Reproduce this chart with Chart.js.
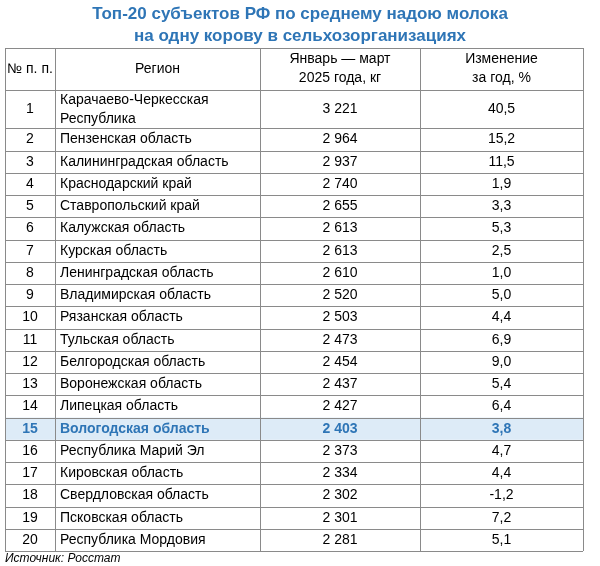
<!DOCTYPE html>
<html><head><meta charset="utf-8">
<script src="https://cdn.jsdelivr.net/npm/chart.js@4"></script>
<style>body{margin:0;background:#fff}#w{width:600px;height:566px;position:relative}</style>
</head><body><div id="w"><canvas id="c"></canvas></div>
<script>
const title = ["Топ-20 субъектов РФ по среднему надою молока","на одну корову в сельхозорганизациях"];
const headers = [["№ п. п."],["Регион"],["Январь — март","2025 года, кг"],["Изменение","за год, %"]];
const ranks = [1,2,3,4,5,6,7,8,9,10,11,12,13,14,15,16,17,18,19,20];
const regions = ["Карачаево-Черкесская\nРеспублика","Пензенская область","Калининградская область","Краснодарский край","Ставропольский край","Калужская область","Курская область","Ленинградская область","Владимирская область","Рязанская область","Тульская область","Белгородская область","Воронежская область","Липецкая область","Вологодская область","Республика Марий Эл","Кировская область","Свердловская область","Псковская область","Республика Мордовия"];
const yields = [3221,2964,2937,2740,2655,2613,2613,2610,2520,2503,2473,2454,2437,2427,2403,2373,2334,2302,2301,2281];
const changes = [40.5,15.2,11.5,1.9,3.3,5.3,2.5,1.0,5.0,4.4,6.9,9.0,5.4,6.4,3.8,4.7,4.4,-1.2,7.2,5.1];
const highlight = "Вологодская область";
const source = "Источник: Росстат";
const colWidths = [50,205,160,163];
const headerH = 1.9, firstH = 1.72, rowH = 1;

const colEdges=[0]; colWidths.forEach(w=>colEdges.push(colEdges[colEdges.length-1]+w));
const rowEdges=[0,headerH,headerH+firstH]; for(let i=1;i<ranks.length;i++) rowEdges.push(rowEdges[rowEdges.length-1]+rowH);
const fmtY=v=>String(v).replace(/\B(?=(\d{3})+(?!\d))/g,' ');
const fmtC=v=>v.toFixed(1).replace('.',',');
const BLUE='#2E75B6';

const tablePlugin={id:'table',afterDraw(ch){
  const c=ch.ctx,x=ch.scales.x,y=ch.scales.y;
  const X=v=>x.getPixelForValue(v),Y=v=>y.getPixelForValue(v);
  c.save();
  // title
  c.fillStyle=BLUE;c.font='bold 17px "Liberation Sans", Arial';c.textAlign='center';c.textBaseline='middle';
  c.fillText(title[0],300,14);c.fillText(title[1],300,36);
  // highlight row
  const hi=regions.indexOf(highlight);
  c.fillStyle='#DDEBF7';c.fillRect(X(0),Y(rowEdges[hi+1]),X(colEdges[4])-X(0),Y(rowEdges[hi+2])-Y(rowEdges[hi+1]));
  // grid
  c.strokeStyle='#8a8a8a';c.lineWidth=1;c.beginPath();
  rowEdges.forEach(r=>{const p=Math.round(Y(r))+0.5;c.moveTo(X(0),p);c.lineTo(X(colEdges[4]),p);});
  colEdges.forEach(e=>{const p=Math.round(X(e))+0.5;c.moveTo(p,Y(0));c.lineTo(p,Y(rowEdges[rowEdges.length-1]));});
  c.stroke();
  // headers
  c.fillStyle='#000';c.font='14px "Liberation Sans", Arial';
  headers.forEach((h,i)=>{const cx=(X(colEdges[i])+X(colEdges[i+1]))/2,cy=(Y(0)+Y(headerH))/2;
    h.forEach((t,j)=>c.fillText(t,cx,cy+(j-(h.length-1)/2)*19));});
  // rows
  ranks.forEach((r,i)=>{
    const cy=(Y(rowEdges[i+1])+Y(rowEdges[i+2]))/2;
    const isH=i===hi;
    c.fillStyle=isH?BLUE:'#000';c.font=(isH?'bold ':'')+'14px "Liberation Sans", Arial';
    c.textAlign='center';
    c.fillText(String(r),(X(colEdges[0])+X(colEdges[1]))/2,cy);
    c.fillText(fmtY(yields[i]),(X(colEdges[2])+X(colEdges[3]))/2,cy);
    c.fillText(fmtC(changes[i]),(X(colEdges[3])+X(colEdges[4]))/2,cy);
    c.textAlign='left';
    const lines=regions[i].split('\n');
    lines.forEach((t,j)=>c.fillText(t,X(colEdges[1])+5,cy+(j-(lines.length-1)/2)*19));
  });
  c.fillStyle='#000';c.font='italic 12px "Liberation Sans", Arial';c.textAlign='left';
  c.fillText(source,5,559);
  c.restore();
}};

new Chart(document.getElementById('c'),{
  type:'scatter',
  data:{datasets:[{data:[]}]},
  options:{responsive:true,maintainAspectRatio:false,animation:false,
    layout:{padding:{left:5,right:17,top:48,bottom:15}},
    plugins:{legend:{display:false},tooltip:{enabled:false}},
    scales:{x:{type:'linear',display:false,min:0,max:colEdges[4]},
            y:{type:'linear',display:false,reverse:true,min:0,max:rowEdges[rowEdges.length-1]}}},
  plugins:[tablePlugin]
});
</script></body></html>
